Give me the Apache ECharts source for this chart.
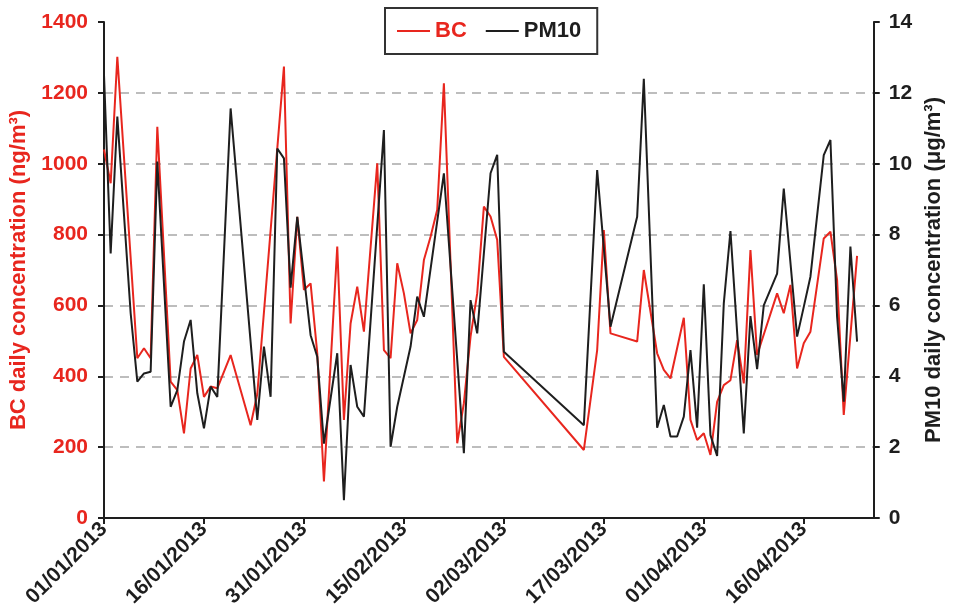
<!DOCTYPE html>
<html>
<head>
<meta charset="utf-8">
<script src="https://cdn.jsdelivr.net/npm/echarts@6/dist/echarts.min.js"></script>
<style>html,body{margin:0;padding:0;background:#fff}#c{width:953px;height:615px}</style>
</head>
<body>
<div id="c"></div>
<script>
const dates = ['2013-01-01','2013-01-02','2013-01-03','2013-01-05','2013-01-06','2013-01-07','2013-01-08','2013-01-09','2013-01-11','2013-01-12','2013-01-13','2013-01-14','2013-01-15','2013-01-16','2013-01-17','2013-01-18','2013-01-20','2013-01-23','2013-01-24','2013-01-25','2013-01-26','2013-01-27','2013-01-28','2013-01-29','2013-01-30','2013-01-31','2013-02-01','2013-02-02','2013-02-03','2013-02-05','2013-02-06','2013-02-07','2013-02-08','2013-02-09','2013-02-11','2013-02-12','2013-02-13','2013-02-14','2013-02-15','2013-02-16','2013-02-17','2013-02-18','2013-02-19','2013-02-20','2013-02-21','2013-02-23','2013-02-24','2013-02-25','2013-02-26','2013-02-27','2013-02-28','2013-03-01','2013-03-02','2013-03-14','2013-03-16','2013-03-17','2013-03-18','2013-03-22','2013-03-23','2013-03-25','2013-03-26','2013-03-27','2013-03-28','2013-03-29','2013-03-30','2013-03-31','2013-04-01','2013-04-02','2013-04-03','2013-04-04','2013-04-05','2013-04-06','2013-04-07','2013-04-08','2013-04-09','2013-04-10','2013-04-12','2013-04-13','2013-04-14','2013-04-15','2013-04-16','2013-04-17','2013-04-19','2013-04-20','2013-04-21','2013-04-22','2013-04-23','2013-04-24'];
const bc = [1040,945,1302,null,451,479,451,1104,385,361,239,422,460,342,371,366,460,262,350,null,null,null,1274,549,850,644,662,465,103,766,277,549,653,526,1001,474,451,719,634,521,559,728,794,870,1227,211,324,512,634,879,851,785,455,192,474,813,521,498,700,465,418,394,null,565,277,220,239,178,328,375,389,502,380,756,460,null,634,578,658,422,493,526,789,808,672,291,null,740];
const pm10 = [12.5,7.47,11.33,5.78,3.85,4.08,4.13,10.06,3.14,3.61,4.98,5.59,3.52,2.53,3.71,3.42,11.56,null,2.77,4.84,3.42,10.43,10.15,6.5,8.5,null,5.16,4.55,2.1,4.65,0.5,4.32,3.14,2.86,null,10.95,2.01,3.14,null,4.84,6.25,5.68,null,null,9.73,null,1.83,6.15,5.21,null,9.73,10.25,4.69,2.62,9.82,null,5.4,8.5,12.4,2.55,3.19,2.3,2.3,2.86,4.74,2.55,6.6,2.34,1.75,6.06,8.1,null,2.39,5.7,4.2,6.0,6.9,9.3,null,5.12,5.96,6.81,10.24,10.67,5.68,3.28,7.66,4.98];
const dateTicks = [0,15,30,45,60,75,90,105];
const bcTicks = [0,200,400,600,800,1000,1200,1400];
const pmTicks = [0,2,4,6,8,10,12,14];

const DAY = 86400000;
const t0 = Date.UTC(2013,0,1);
const dayOf = s => { const p = s.split('-').map(Number); return (Date.UTC(p[0],p[1]-1,p[2]) - t0)/DAY; };
const fmt = d => { const dt = new Date(t0 + d*DAY); const dd = String(dt.getUTCDate()).padStart(2,'0'); const mm = String(dt.getUTCMonth()+1).padStart(2,'0'); return dd+'/'+mm+'/'+dt.getUTCFullYear(); };

const RED = '#e8261e', BLACK = '#1e1e1e';
const FONT = 'Liberation Sans';
const chart = echarts.init(document.getElementById('c'), null, {renderer:'canvas'});
chart.setOption({
  animation: false,
  backgroundColor: '#fff',
  textStyle: {fontFamily: FONT},
  legend: {
    top: 8, left: 385,
    borderColor: '#333', borderWidth: 2, padding: [12, 16, 12, 12],
    itemGap: 19, itemWidth: 33, itemHeight: 2, icon: 'rect',
    textStyle: {fontFamily: FONT, fontWeight: 'bold', fontSize: 22},
    data: [{name:'BC', textStyle:{color:RED}}, {name:'PM10', textStyle:{color:BLACK}}]
  },
  grid: {left: 104, right: 75, top: 22, bottom: 97},
  xAxis: {
    type: 'value', min: 0, max: 115.5,
    axisLine: {lineStyle: {color: BLACK, width: 2}},
    axisTick: {show: true, length: 6, lineStyle: {color: BLACK, width: 2}, customValues: dateTicks},
    axisLabel: {rotate: 45, fontFamily: FONT, fontWeight: 'bold', fontSize: 21, color: BLACK, margin: 8, customValues: dateTicks, formatter: v => fmt(v)},
    splitLine: {show: false}
  },
  yAxis: [{
    type: 'value', min: 0, max: 1400, interval: 200, position: 'left',
    name: 'BC daily concentration (ng/m³)', nameLocation: 'middle', nameRotate: 90, nameGap: 71,
    nameTextStyle: {color: RED, fontWeight: 'bold', fontSize: 22, fontFamily: FONT},
    axisLine: {show: true, lineStyle: {color: BLACK, width: 2}},
    axisTick: {show: true, length: 6, lineStyle: {color: BLACK, width: 2}},
    axisLabel: {color: RED, fontWeight: 'bold', fontSize: 21, fontFamily: FONT, margin: 16, formatter: v => String(v)},
    splitLine: {show: true, showMinLine: false, showMaxLine: false, lineStyle: {color: '#a8a8a8', width: 1.5, type: [9, 7]}}
  }, {
    type: 'value', min: 0, max: 14, interval: 2, position: 'right',
    name: 'PM10 daily concentration (μg/m³)', nameLocation: 'middle', nameRotate: 90, nameGap: 44,
    nameTextStyle: {color: BLACK, fontWeight: 'bold', fontSize: 22, fontFamily: FONT},
    axisLine: {show: true, lineStyle: {color: BLACK, width: 2}},
    axisTick: {show: true, length: 6, lineStyle: {color: BLACK, width: 2}},
    axisLabel: {color: BLACK, fontWeight: 'bold', fontSize: 21, fontFamily: FONT, margin: 15},
    splitLine: {show: false}
  }],
  series: [{
    name: 'BC', type: 'line', yAxisIndex: 0, symbol: 'none', connectNulls: true,
    lineStyle: {color: RED, width: 2}, itemStyle: {color: RED},
    data: dates.map((d, i) => [dayOf(d), bc[i]])
  }, {
    name: 'PM10', type: 'line', yAxisIndex: 1, symbol: 'none', connectNulls: true,
    lineStyle: {color: BLACK, width: 2}, itemStyle: {color: BLACK},
    data: dates.map((d, i) => [dayOf(d), pm10[i]])
  }]
});
</script>
</body>
</html>
